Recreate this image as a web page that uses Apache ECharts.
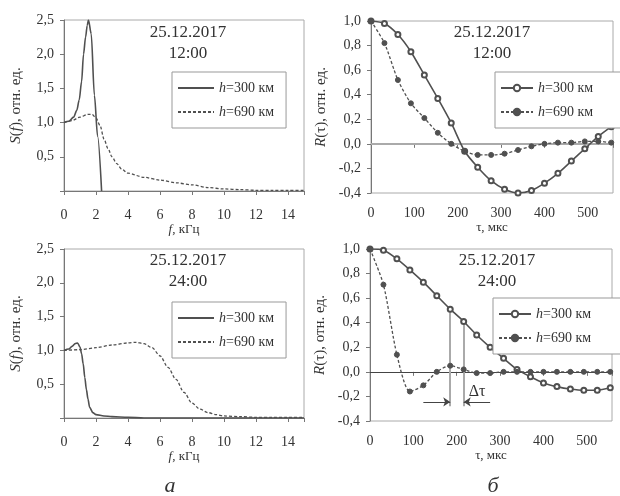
<!DOCTYPE html>
<html>
<head>
<meta charset="utf-8">
<script src="https://cdn.jsdelivr.net/npm/echarts@6/dist/echarts.min.js"></script>
<style>
  html, body { margin: 0; padding: 0; background: #fff; }
  #chart { width: 620px; height: 496px; }
</style>
</head>
<body>
<div id="chart"></div>
<script>
// spectra S(f), 12:00
const fTop300 = [0, 0.3, 0.6, 0.8, 0.95, 1.1, 1.22, 1.35, 1.45, 1.53, 1.7, 1.9, 2.1, 2.35]
const sTop300 = [1.0, 1.02, 1.08, 1.18, 1.33, 1.6, 2.0, 2.25, 2.42, 2.5, 2.3, 1.4, 0.8, 0.0]
const fTop690 = [0, 0.5, 1.0, 1.5, 1.75, 2.0, 2.25, 2.5, 2.75, 3.0, 3.3, 3.6, 4.0, 5, 6, 7, 8, 9, 10, 11, 12, 13, 14, 15]
const sTop690 = [1.0, 1.03, 1.08, 1.12, 1.12, 1.07, 0.96, 0.76, 0.62, 0.5, 0.4, 0.32, 0.26, 0.2, 0.16, 0.12, 0.09, 0.05, 0.03, 0.02, 0.01, 0.01, 0.01, 0.01]

// spectra S(f), 24:00
const fBot300 = [0, 0.3, 0.5, 0.7, 0.85, 1.0, 1.1, 1.2, 1.3, 1.4, 1.5, 1.6, 1.8, 2.0, 2.5, 3, 4, 5, 15]
const sBot300 = [1.0, 1.02, 1.06, 1.1, 1.11, 1.05, 0.95, 0.8, 0.6, 0.42, 0.28, 0.16, 0.08, 0.05, 0.03, 0.02, 0.01, 0.0, 0.0]
const fBot690 = [0, 1, 2, 3, 4, 4.5, 5, 5.5, 6, 6.5, 7, 7.5, 8, 8.5, 9, 9.5, 10, 11, 12, 13, 14, 15]
const sBot690 = [1.0, 1.01, 1.04, 1.08, 1.11, 1.12, 1.1, 1.04, 0.92, 0.75, 0.57, 0.38, 0.22, 0.13, 0.08, 0.05, 0.03, 0.02, 0.01, 0.01, 0.01, 0.01]

// correlation R(tau)
const tau = [0, 31, 62, 92, 123, 154, 185, 216, 246, 277, 308, 339, 370, 400, 431, 462, 493, 524, 554]
const rTop300 = [1.0, 0.98, 0.89, 0.75, 0.56, 0.37, 0.17, -0.06, -0.19, -0.30, -0.37, -0.40, -0.38, -0.32, -0.24, -0.14, -0.04, 0.06, 0.14]
const rTop690 = [1.0, 0.82, 0.52, 0.33, 0.21, 0.09, 0.0, -0.06, -0.09, -0.09, -0.08, -0.05, -0.02, 0.0, 0.01, 0.01, 0.02, 0.02, 0.01]
const rBot300 = [1.0, 0.99, 0.92, 0.83, 0.73, 0.62, 0.51, 0.41, 0.30, 0.20, 0.11, 0.02, -0.04, -0.09, -0.12, -0.14, -0.15, -0.15, -0.13]
const rBot690 = [1.0, 0.71, 0.14, -0.16, -0.11, 0.0, 0.05, 0.02, -0.01, -0.01, 0.0, 0.0, 0.0, 0.0, 0.0, 0.0, 0.0, 0.0, 0.0]

// delta-tau annotation (tau values, R levels)
const dtauAt = [185, 216]
const dtauTop = [0.51, 0.41]
const dtauBottom = -0.28
const arrowLevel = -0.245
const arrowFrom = [123, 277]
const dtauText = [247, -0.165]

const titles = ['25.12.2017\n12:00', '25.12.2017\n12:00', '25.12.2017\n24:00', '25.12.2017\n24:00']

const FONT = '"Liberation Serif", "DejaVu Serif", serif'
const INK = '#333'
const LINE = '#505050'
const GUIDE = { color: '#aaa', width: 2, type: 'solid' }

const pairs = (xs, ys) => xs.map((x, i) => [x, ys[i]])
const comma = (v) => v.toFixed(1).replace('.', ',')

const grids = [
  { left: 64, top: 20, width: 240, height: 171 },
  { left: 371, top: 21, width: 242, height: 172 },
  { left: 64, top: 249, width: 240, height: 169 },
  { left: 370, top: 249, width: 242, height: 172 },
].map((g) => ({ ...g, show: true, borderColor: '#aaa', borderWidth: 1, backgroundColor: 'transparent' }))

const italic = (size) => ({ i: { fontStyle: 'italic', fontFamily: FONT, fontSize: size, color: INK } })

const baseAxis = {
  axisLine: { show: true, lineStyle: { color: '#777', width: 1 } },
  axisTick: { show: true, length: 4, lineStyle: { color: '#777' } },
  splitLine: { show: false },
  axisLabel: { color: INK, fontFamily: FONT, fontSize: 14 },
  nameLocation: 'middle',
}

const xAxes = [0, 1, 2, 3].map((i) => {
  const spec = i % 2 === 0
  return {
    ...baseAxis,
    gridIndex: i,
    type: 'value',
    min: 0,
    max: spec ? 15 : 558,
    interval: spec ? 2 : 100,
    name: spec ? '{i|f}, кГц' : 'τ, мкс',
    nameGap: spec ? 30 : 26,
    nameTextStyle: { color: INK, fontFamily: FONT, fontSize: 13, rich: italic(13) },
    axisLabel: {
      ...baseAxis.axisLabel,
      margin: spec ? 17 : 13,
      formatter: (v) => (spec ? (v % 2 === 0 ? String(v) : '') : (v % 100 === 0 ? String(v) : '')),
    },
  }
})

const yAxes = [0, 1, 2, 3].map((i) => {
  const spec = i % 2 === 0
  return {
    ...baseAxis,
    gridIndex: i,
    type: 'value',
    min: spec ? 0 : -0.4,
    max: spec ? 2.5 : 1.0,
    interval: spec ? 0.5 : 0.2,
    name: spec ? '{i|S}({i|f}), отн. ед.' : '{i|R}(τ), отн. ед.',
    nameGap: spec ? 40 : 42,
    nameTextStyle: { color: INK, fontFamily: FONT, fontSize: 15, rich: italic(15) },
    axisLabel: {
      ...baseAxis.axisLabel,
      margin: 10,
      formatter: (v) => (spec && v === 0 ? '' : comma(v)),
    },
  }
})

const specLine = (name, idx, data, dashed) => ({
  name,
  type: 'line',
  xAxisIndex: idx,
  yAxisIndex: idx,
  data,
  showSymbol: false,
  symbol: 'none',
  smooth: 0.3,
  smoothMonotone: 'x',
  lineStyle: { color: LINE, width: dashed ? 1.3 : 1.6, type: dashed ? [3, 2] : 'solid' },
  itemStyle: { color: LINE },
  silent: true,
})

const corrLine = (name, idx, data, dashed) => ({
  name,
  type: 'line',
  xAxisIndex: idx,
  yAxisIndex: idx,
  data,
  smooth: 0.25,
  symbol: dashed ? 'circle' : 'emptyCircle',
  symbolSize: 5,
  lineStyle: { color: LINE, width: dashed ? 1.3 : 1.6, type: dashed ? [3, 2] : 'solid' },
  itemStyle: { color: LINE, borderColor: LINE, borderWidth: 1 },
  silent: true,
})

const series = [
  specLine('S300', 0, pairs(fTop300, sTop300), false),
  specLine('S690', 0, pairs(fTop690, sTop690), true),
  {
    ...corrLine('R300', 1, pairs(tau, rTop300), false),
    markLine: {
      silent: true,
      z: 1,
      symbol: ['none', 'none'],
      label: { show: false },
      lineStyle: GUIDE,
      data: [{ yAxis: 0 }],
    },
  },
  corrLine('R690', 1, pairs(tau, rTop690), true),
  specLine('S300', 2, pairs(fBot300, sBot300), false),
  specLine('S690', 2, pairs(fBot690, sBot690), true),
  {
    ...corrLine('R300', 3, pairs(tau, rBot300), false),
    markLine: {
      silent: true,
      z: 1,
      symbol: ['none', 'none'],
      symbolSize: 7,
      label: { show: false },
      lineStyle: { color: '#444', width: 1, type: 'solid' },
      data: [
        { yAxis: 0 },
        [{ coord: [dtauAt[0], dtauTop[0]], lineStyle: GUIDE }, { coord: [dtauAt[0], dtauBottom], lineStyle: GUIDE }],
        [{ coord: [dtauAt[1], dtauTop[1]], lineStyle: GUIDE }, { coord: [dtauAt[1], dtauBottom], lineStyle: GUIDE }],
        [{ coord: [arrowFrom[0], arrowLevel], symbol: 'none' }, { coord: [dtauAt[0], arrowLevel], symbol: 'arrow' }],
        [{ coord: [arrowFrom[1], arrowLevel], symbol: 'none' }, { coord: [dtauAt[1], arrowLevel], symbol: 'arrow' }],
      ],
    },
    markPoint: {
      silent: true,
      symbol: 'rect',
      symbolSize: 1,
      itemStyle: { color: 'transparent' },
      label: { show: true, position: 'inside', formatter: 'Δτ', color: INK, fontFamily: FONT, fontSize: 16 },
      data: [{ coord: dtauText }],
    },
  },
  corrLine('R690', 3, pairs(tau, rBot690), true),
]

const legendBox = (left, top, names, padRight) => {
  const spec = names[0] === 'S300'
  return {
    left,
    top,
    orient: 'vertical',
    data: names,
    itemWidth: spec ? 36 : 32,
    itemHeight: 8,
    itemGap: 10,
    padding: [9, padRight, 9, 5],
    borderColor: '#999',
    borderWidth: 1,
    backgroundColor: '#fff',
    selectedMode: false,
    itemStyle: spec ? { color: 'rgba(0,0,0,0)', borderWidth: 0 } : {},
    formatter: (n) => '{i|h}=' + n.slice(1) + ' км',
    textStyle: { color: INK, fontFamily: FONT, fontSize: 14, rich: italic(14) },
  }
}

const legends = [
  legendBox(172, 72, ['S300', 'S690'], 12),
  legendBox(495, 72, ['R300', 'R690'], 30),
  legendBox(172, 302, ['S300', 'S690'], 12),
  legendBox(493, 298, ['R300', 'R690'], 30),
]

const titleCenters = [[188, 22], [492, 22], [188, 250], [497, 250]]
const graphic = titles.map((t, i) => ({
  type: 'text',
  x: titleCenters[i][0],
  y: titleCenters[i][1],
  silent: true,
  style: { text: t, fill: INK, font: '17px ' + FONT, lineHeight: 21, textAlign: 'center', textVerticalAlign: 'top' },
})).concat([
  { type: 'text', x: 170, y: 486, silent: true, style: { text: 'а', fill: INK, font: 'italic 22px ' + FONT, textAlign: 'center', textVerticalAlign: 'middle' } },
  { type: 'text', x: 493, y: 486, silent: true, style: { text: 'б', fill: INK, font: 'italic 22px ' + FONT, textAlign: 'center', textVerticalAlign: 'middle' } },
])

const chart = echarts.init(document.getElementById('chart'), null, { renderer: 'canvas' })
chart.setOption({
  animation: false,
  backgroundColor: '#fff',
  grid: grids,
  xAxis: xAxes,
  yAxis: yAxes,
  legend: legends,
  series,
  graphic,
})
</script>
</body>
</html>
